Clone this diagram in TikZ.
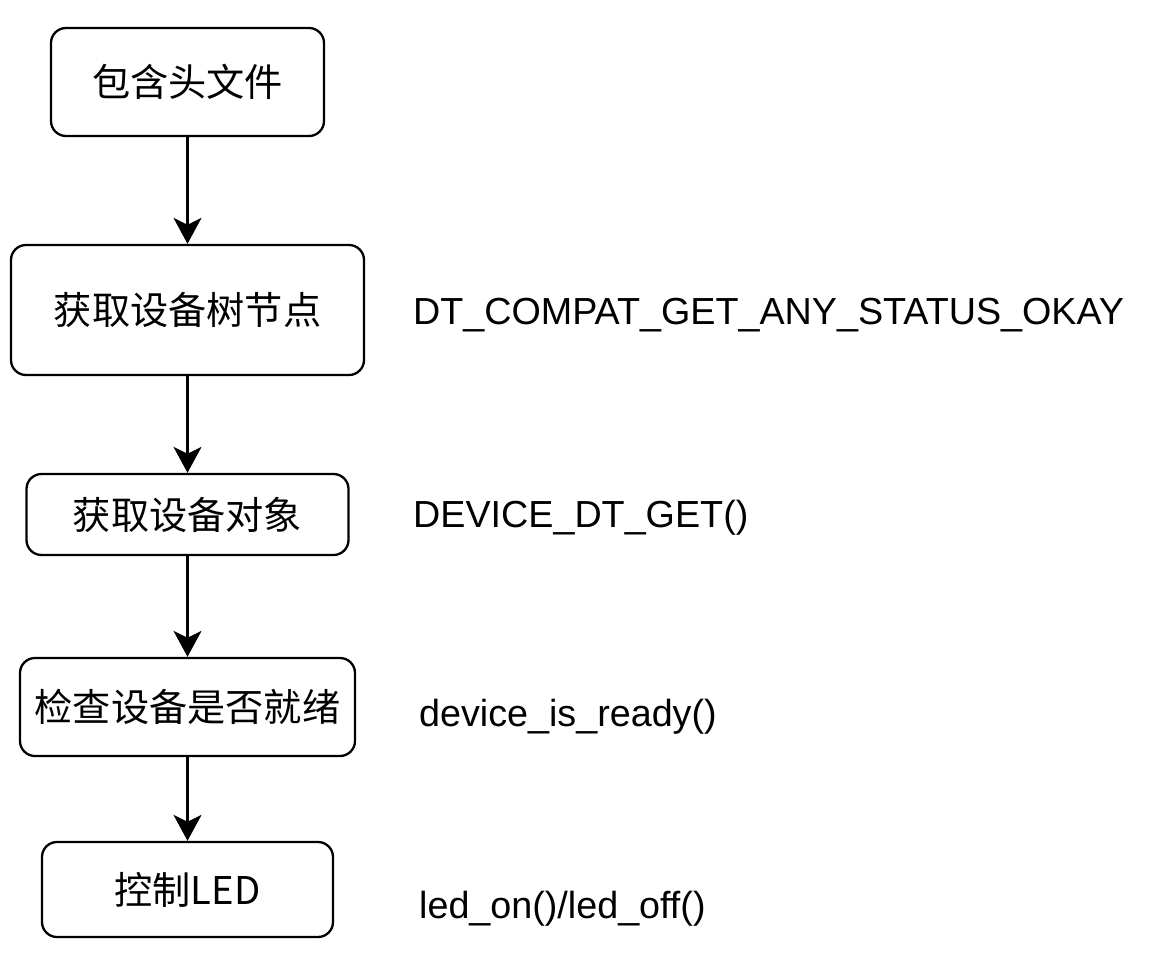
\documentclass[tikz,border=0pt]{standalone}
\usepackage{fontspec}
\setmainfont{Liberation Sans}
\newfontfamily\cjk{Noto Sans CJK SC}
\usetikzlibrary{arrows.meta}
\begin{document}
\begin{tikzpicture}[x=1pt,y=-1pt,
  stepbox/.style={draw=black, line width=2.3pt, rounded corners=15pt, inner sep=0pt, font=\cjk\fontsize{38.2}{44}\selectfont},
  codelabel/.style={anchor=base west, inner sep=0pt, font=\fontsize{37.7}{44}\selectfont},
  flow/.style={line width=2.3pt, -{Stealth[length=26pt,width=28pt,inset=7pt]}}]
\useasboundingbox (0,0) rectangle (1154,969);
\fill[white] (0,0) rectangle (1154,969);
\node[stepbox, minimum width=273pt, minimum height=108pt] (b1) at (187.5,82) {包含头文件};
\node[stepbox, minimum width=353pt, minimum height=130pt] (b2) at (187.5,310) {获取设备树节点};
\node[stepbox, minimum width=322pt, minimum height=81pt] (b3) at (187.5,514.5) {获取设备对象};
\node[stepbox, minimum width=335pt, minimum height=98pt] (b4) at (187.5,707) {检查设备是否就绪};
\node[stepbox, minimum width=291pt, minimum height=95pt] (b5) at (187.5,889.5) {控制LED};
\draw[flow] (b1.south) -- (b2.north);
\draw[flow] (b2.south) -- (b3.north);
\draw[flow] (b3.south) -- (b4.north);
\draw[flow] (b4.south) -- (b5.north);
\node[codelabel] (l2) at (413,324) {DT\_COMPAT\_GET\_ANY\_STATUS\_OKAY};
\node[codelabel] (l3) at (413,527) {DEVICE\_DT\_GET()};
\node[codelabel] (l4) at (419,726) {device\_is\_ready()};
\node[codelabel] (l5) at (419,918) {led\_on()/led\_off()};
\end{tikzpicture}
\end{document}
